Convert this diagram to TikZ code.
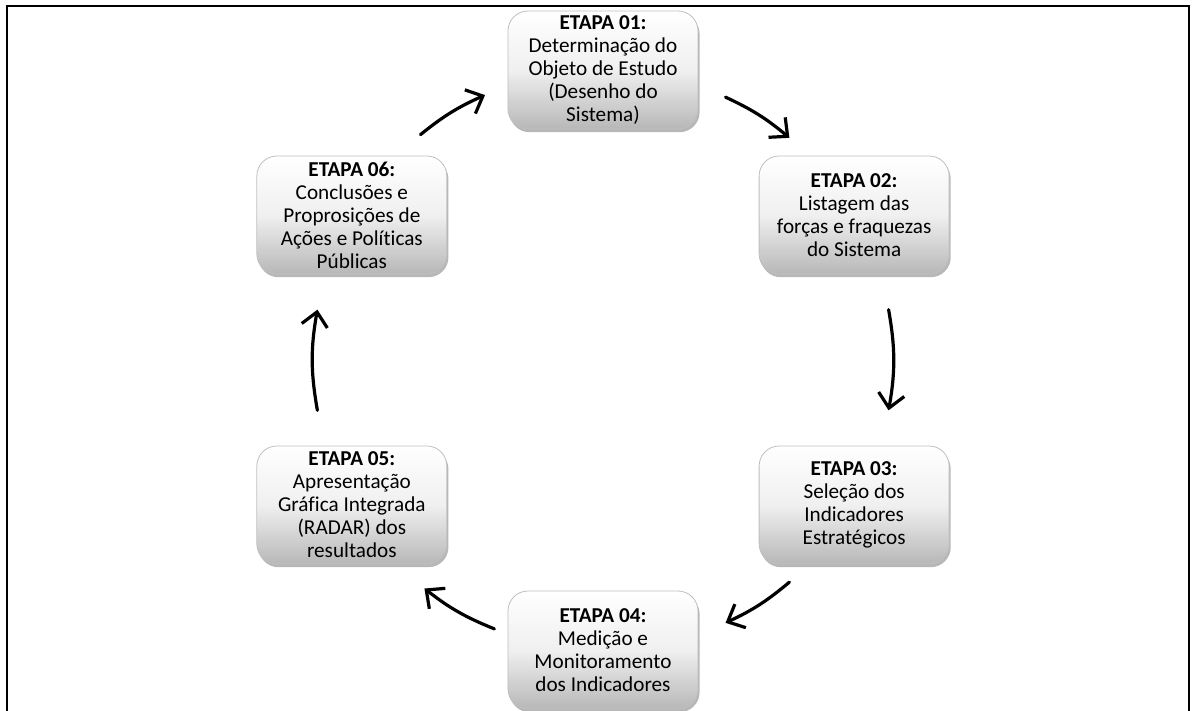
\documentclass[tikz,border=0pt]{standalone}
\usepackage{fontspec}
\setmainfont{Carlito}[Ligatures=CommonOff]
\usetikzlibrary{arrows.meta,shadows}
\tikzset{etapa/.style={draw=black!25,rounded corners=10pt,minimum width=95pt,minimum height=59pt,align=center,inner sep=.5pt,top color=white,bottom color=black!28,middle color=white!94!black,drop shadow={shadow xshift=.8pt,shadow yshift=-1.6pt,opacity=.4,fill=black!70},font=\fontsize{10.6}{11.5}\selectfont},seta/.style={-{Straight Barb[length=7pt,width=13pt]},line width=1.6pt,line cap=round}}
\begin{document}
\begin{tikzpicture}[x=.5pt,y=.5pt]
\useasboundingbox (-603,-351) rectangle (593,360);
\draw[line width=1pt] (-596,-351)--(-596,354)--(586,354)--(586,-351);
\node[etapa] (e1) at (90:290) {\textbf{ETAPA 01:}\\Determinação do\\Objeto de Estudo\\(Desenho do\\Sistema)};
\node[etapa] (e2) at (30:290) {\textbf{ETAPA 02:}\\Listagem das\\forças e fraquezas\\do Sistema};
\node[etapa] (e3) at (-30:290) {\textbf{ETAPA 03:}\\Seleção dos\\Indicadores\\Estratégicos};
\node[etapa] (e4) at (-90:290) {\textbf{ETAPA 04:}\\Medição e\\Monitoramento\\dos Indicadores};
\node[etapa] (e5) at (-150:290) {\textbf{ETAPA 05:}\\Apresentação\\Gráfica Integrada\\(RADAR) dos\\resultados};
\node[etapa] (e6) at (150:290) {\textbf{ETAPA 06:}\\Conclusões e\\Proprosições de\\Ações e Políticas\\Públicas};
% pontas das setas sobre o circulo
\foreach \n/\a in {a1/65,b1/50,a2/10,b2/-10,a3/-50,b3/-65,a4/248,b4/232,a5/190,b5/170,a6/129,b6/114}{\coordinate (\n) at (\a:290);}
\draw[seta] (a1) to[bend left=7.5] (b1);
\draw[seta] (a2) to[bend left=10] (b2);
\draw[seta] (a3) to[bend left=7.5] (b3);
\draw[seta] (a4) to[bend left=8] (b4);
\draw[seta] (a5) to[bend left=10] (b5);
\draw[seta] (a6) to[bend left=7.5] (b6);
\end{tikzpicture}
\end{document}
